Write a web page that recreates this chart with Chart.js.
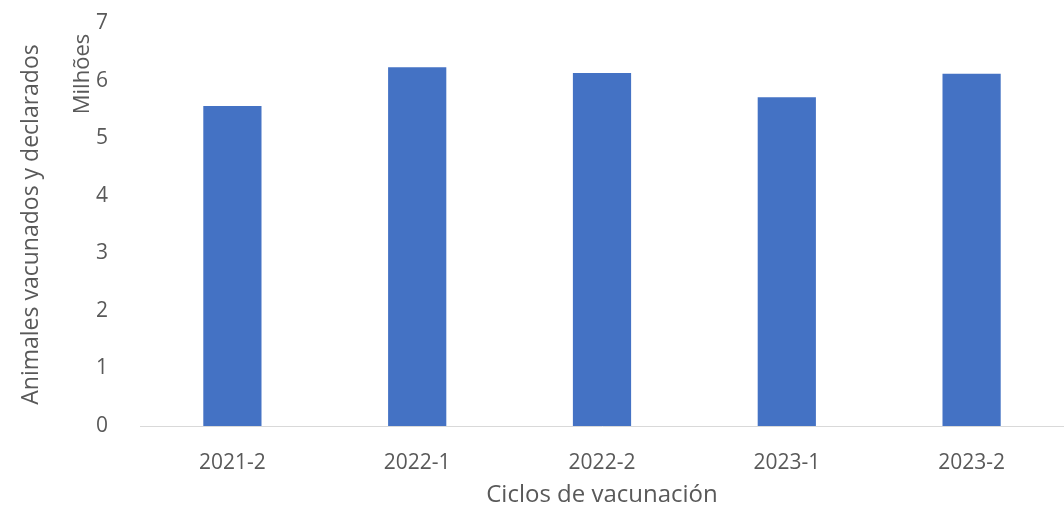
<!DOCTYPE html>
<html>
<head>
<meta charset="utf-8">
<script src="https://cdn.jsdelivr.net/npm/chart.js@4"></script>
<style>
  body { margin: 0; background: #fff; }
  canvas { display: block; }
</style>
</head>
<body>
<canvas id="myChart" width="1064" height="519"></canvas>
<script>
const ciclos = ["2021-2", "2022-1", "2022-2", "2023-1", "2023-2"];
const animales = [5.56, 6.23, 6.13, 5.71, 6.12];
const yMin = 0, yMax = 7, yStep = 1;

const fontFamily = "'Open Sans', 'Liberation Sans', sans-serif";
const textColor = "#595959";

// axis titles drawn by hand so they sit where the original has them
const titles = {
  id: "titles",
  afterDraw(chart) {
    const ctx = chart.ctx;
    const area = chart.chartArea;
    ctx.save();
    ctx.fillStyle = textColor;
    ctx.textAlign = "center";
    ctx.textBaseline = "middle";
    ctx.font = "24px " + fontFamily;
    ctx.fillText("Ciclos de vacunación", (area.left + area.right) / 2, 495);

    ctx.save();
    ctx.font = "23px " + fontFamily;
    ctx.translate(31, (area.top + area.bottom) / 2);
    ctx.rotate(-Math.PI / 2);
    ctx.fillText("Animales vacunados y declarados", 0, 0);
    ctx.restore();

    ctx.font = "22px " + fontFamily;
    ctx.translate(83, 74);
    ctx.rotate(-Math.PI / 2);
    ctx.fillText("Milhões", 0, 0);
    ctx.restore();
  }
};

const ctx = document.getElementById("myChart").getContext("2d");
new Chart(ctx, {
  type: "bar",
  data: {
    labels: ciclos,
    datasets: [{
      data: animales,
      backgroundColor: "#4472c4",
      borderWidth: 0,
      barPercentage: 0.315,
      categoryPercentage: 1
    }]
  },
  options: {
    responsive: false,
    animation: false,
    layout: { padding: { top: 23, right: 0, left: 0, bottom: 0 } },
    plugins: {
      legend: { display: false },
      tooltip: { enabled: false }
    },
    scales: {
      x: {
        grid: { display: false },
        border: { display: true, color: "#d9d9d9", width: 1 },
        ticks: { color: textColor, font: { family: fontFamily, size: 21 }, padding: 16, maxRotation: 0 },
        afterFit(scale) {
          scale.height = 93;
          scale.paddingLeft = 0;
          scale.paddingRight = 0;
        }
      },
      y: {
        min: yMin,
        max: yMax,
        grid: { display: false },
        border: { display: false },
        ticks: { stepSize: yStep, color: textColor, font: { family: fontFamily, size: 21 }, padding: 24 },
        afterFit(scale) {
          scale.width = 140;
          scale.paddingTop = 0;
          scale.paddingBottom = 0;
        }
      }
    }
  },
  plugins: [titles]
});
</script>
</body>
</html>
